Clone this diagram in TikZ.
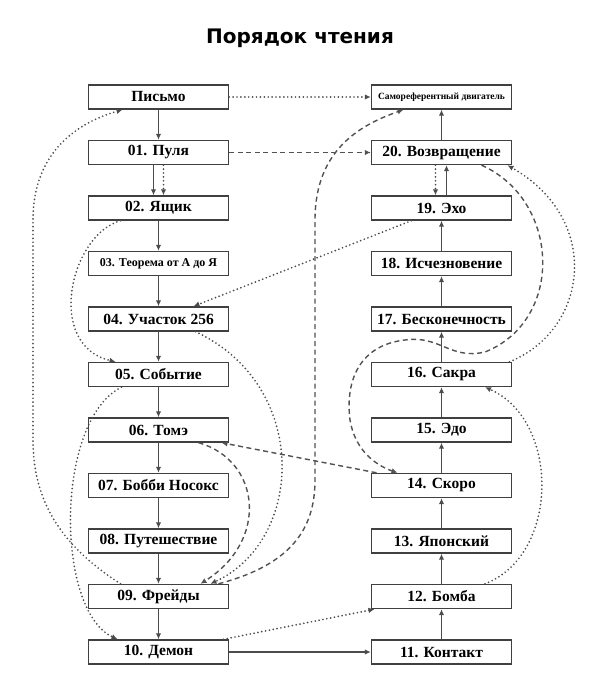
\documentclass[tikz,border=0pt]{standalone}
\usepackage{fontspec}
\setmainfont{Liberation Serif}
\newfontfamily\titlefont{DejaVu Sans}
\usetikzlibrary{arrows.meta, positioning}

\begin{document}
\begin{tikzpicture}[x=1pt, y=-1pt,
    chapter node/.style={draw=black!75, line width=1.4pt, fill=white, minimum width=140pt, minimum height=24pt, inner sep=0pt, font=\fontsize{15.5}{17}\selectfont\bfseries},
    solid arrow/.style={draw=black!70, line width=1.3pt, -{Latex[length=6pt,width=5.5pt]}},
    dotted arrow/.style={draw=black!70, line width=1.9pt, line cap=round, dash pattern=on 0pt off 3.9pt, -{Latex[length=6pt,width=5.5pt]}},
    dashed arrow/.style={draw=black!68, line width=1.4pt, dash pattern=on 5pt off 3.5pt, -{Latex[length=6pt,width=5.5pt]}}]
    \useasboundingbox (0,0) rectangle (590,700);

    \node[font=\titlefont\bfseries\fontsize{20}{24}\selectfont, anchor=base] (title) at (300,44) {Порядок чтения};

    \node[chapter node] (pismo) at (158.5,97) {Письмо};
    \node[chapter node] (pulya) at (158.5,152.5) {01. Пуля};
    \node[chapter node] (yashchik) at (158.5,208) {02. Ящик};
    \node[chapter node, font=\fontsize{12}{14}\selectfont\bfseries] (teorema) at (158.5,263.5) {03. Теорема от А до Я};
    \node[chapter node] (uchastok) at (158.5,319) {04. Участок 256};
    \node[chapter node] (sobytie) at (158.5,374.5) {05. Событие};
    \node[chapter node] (tome) at (158.5,430) {06. Томэ};
    \node[chapter node] (bobbi) at (158.5,485.5) {07. Бобби Носокс};
    \node[chapter node] (puteshestvie) at (158.5,541) {08. Путешествие};
    \node[chapter node] (freidy) at (158.5,596.5) {09. Фрейды};
    \node[chapter node] (demon) at (158.5,652) {10. Демон};

    \node[chapter node, font=\fontsize{9.5}{11}\selectfont\bfseries] (dvigatel) at (441.5,97) {Самореферентный двигатель};
    \node[chapter node] (vozvrashchenie) at (441.5,152.5) {20. Возвращение};
    \node[chapter node] (ekho) at (441.5,208) {19. Эхо};
    \node[chapter node] (ischeznovenie) at (441.5,263.5) {18. Исчезновение};
    \node[chapter node] (beskonechnost) at (441.5,319) {17. Бесконечность};
    \node[chapter node] (sakra) at (441.5,374.5) {16. Сакра};
    \node[chapter node] (edo) at (441.5,430) {15. Эдо};
    \node[chapter node] (skoro) at (441.5,485.5) {14. Скоро};
    \node[chapter node] (yaponskiy) at (441.5,541) {13. Японский};
    \node[chapter node] (bomba) at (441.5,596.5) {12. Бомба};
    \node[chapter node] (kontakt) at (441.5,652) {11. Контакт};

    % main reading line
    \draw[solid arrow] (pismo) -- (pulya);
    \draw[solid arrow] ([xshift=-5pt]pulya.south) -- ([xshift=-5pt]yashchik.north);
    \draw[dotted arrow] ([xshift=5pt]pulya.south) -- ([xshift=5pt]yashchik.north);
    \draw[solid arrow] (yashchik) -- (teorema);
    \draw[solid arrow] (teorema) -- (uchastok);
    \draw[solid arrow] (uchastok) -- (sobytie);
    \draw[solid arrow] (sobytie) -- (tome);
    \draw[solid arrow] (tome) -- (bobbi);
    \draw[solid arrow] (bobbi) -- (puteshestvie);
    \draw[solid arrow] (puteshestvie) -- (freidy);
    \draw[solid arrow] (freidy) -- (demon);
    \draw[solid arrow] (demon) -- (kontakt);
    \draw[solid arrow] (kontakt) -- (bomba);
    \draw[solid arrow] (bomba) -- (yaponskiy);
    \draw[solid arrow] (yaponskiy) -- (skoro);
    \draw[solid arrow] (skoro) -- (edo);
    \draw[solid arrow] (edo) -- (sakra);
    \draw[solid arrow] (sakra) -- (beskonechnost);
    \draw[solid arrow] (beskonechnost) -- (ischeznovenie);
    \draw[solid arrow] (ischeznovenie) -- (ekho);
    \draw[solid arrow] ([xshift=5pt]ekho.north) -- ([xshift=5pt]vozvrashchenie.south);
    \draw[dotted arrow] ([xshift=-6pt]vozvrashchenie.south) -- ([xshift=-6pt]ekho.north);
    \draw[solid arrow] (vozvrashchenie) -- (dvigatel);

    % side links
    \draw[dotted arrow] (pismo) -- (dvigatel);
    \draw[dashed arrow] (pulya) -- (vozvrashchenie);
    \draw[dotted arrow] ([xshift=-38pt]freidy.north) .. controls (60,545) and (33,500) .. (33,440) -- (33,220) .. controls (33,150) and (80,122) .. ([xshift=-36pt]pismo.south);
    \draw[dotted arrow] ([xshift=-38pt]yashchik.south) .. controls (70,235) and (45,345) .. ([xshift=-43pt]sobytie.north);
    \draw[dotted arrow] ([xshift=-37pt]sobytie.south) .. controls (55,420) and (55,610) .. ([xshift=-41pt]demon.north);
    \draw[dotted arrow] ([xshift=-30pt]ekho.south) -- ([xshift=35pt]uchastok.north);
    \draw[dotted arrow] ([xshift=37pt]uchastok.south) .. controls (310,385) and (305,540) .. ([xshift=52pt]freidy.north);
    \draw[dashed arrow] ([xshift=40pt]tome.south) .. controls (260,460) and (270,540) .. ([xshift=42pt]freidy.north);
    \draw[dashed arrow] ([xshift=60pt]freidy.north) .. controls (290,565) and (315,530) .. (315,480) -- (315,220) .. controls (315,150) and (360,125) .. ([xshift=-38pt]dvigatel.south);
    \draw[dashed arrow] ([xshift=-65pt]skoro.north) -- ([xshift=63pt]tome.south);
    \draw[dashed arrow] ([xshift=40pt]vozvrashchenie.south) .. controls (560,200) and (565,320) .. (485,352) .. controls (450,360) and (440,335) .. (405,340) .. controls (360,345) and (345,380) .. (350,420) .. controls (355,450) and (375,465) .. ([xshift=-44pt]skoro.north);
    \draw[dotted arrow] ([xshift=68pt]sakra.north) .. controls (588,330) and (603,220) .. ([xshift=66pt]vozvrashchenie.south);
    \draw[dotted arrow] ([xshift=43.5pt]bomba.north) .. controls (560,555) and (560,420) .. ([xshift=43.5pt]sakra.south);
    \draw[dotted arrow] ([xshift=65pt]demon.north) -- ([xshift=-67pt]bomba.south);
\end{tikzpicture}
\end{document}
